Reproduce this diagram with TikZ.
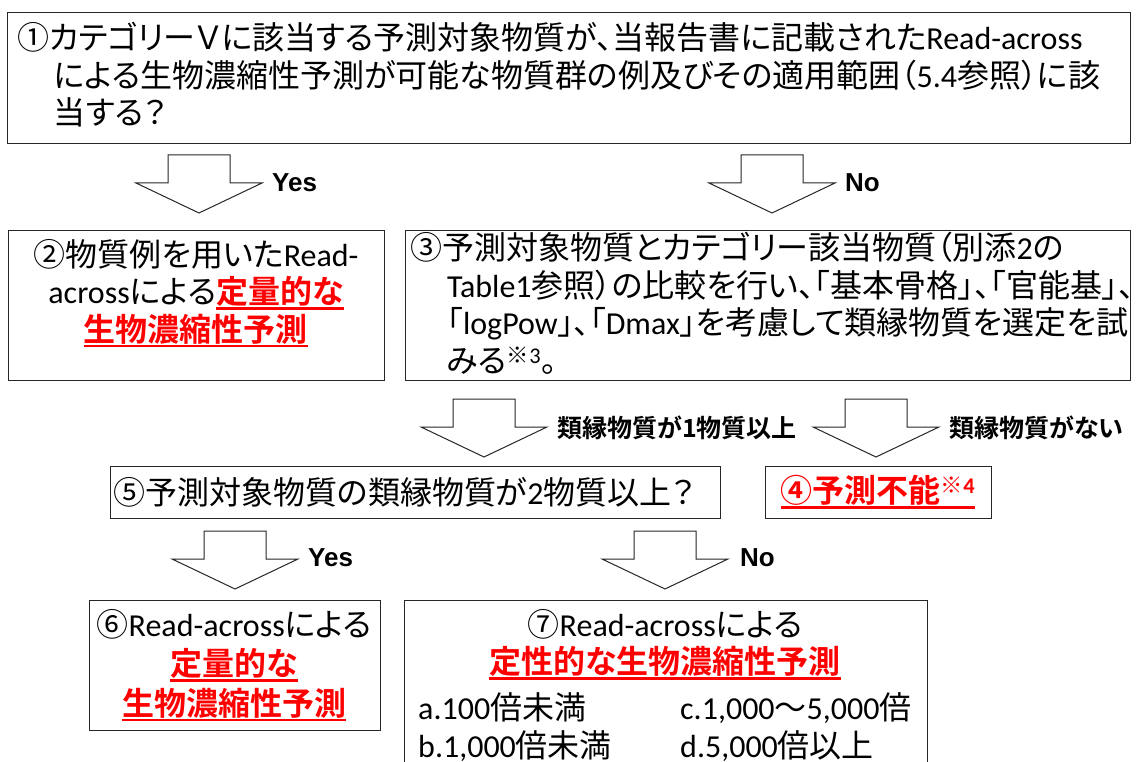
\documentclass[tikz,border=0pt]{standalone}
\usepackage{fontspec}
\setmainfont{Noto Sans CJK JP}[RawFeature={+palt},BoldFont={Noto Sans CJK JP Bold}]
\newfontfamily\lat{Carlito}
\newfontfamily\arl{Liberation Sans}
\newsavebox\ulbox
\newcommand\redul[1]{{\color{red}\bfseries\sbox\ulbox{#1}\leavevmode\rlap{\rule[-6pt]{\wd\ulbox}{2.5pt}}\usebox\ulbox}}
\newcommand\la[1]{{\lat #1}}
\tikzset{
  box/.style={draw=black!85, line width=1.2pt, fill=white, inner sep=0pt, anchor=north west},
  txt/.style={font=\fontsize{32}{37.5}\selectfont, inner sep=0pt},
  lbl/.style={font=\fontsize{25}{28}\selectfont\bfseries, inner sep=0pt, anchor=west},
  yn/.style={font=\fontsize{26}{30}\selectfont\arl\bfseries, inner sep=0pt, anchor=west},
  arrowline/.style={draw=black!85, line width=1pt, fill=white, line join=miter},
  dnarrow/.pic={\path[arrowline] (-31,0) -- (31,0) -- (31,28) -- (63,28) -- (0,58) -- (-63,28) -- (-31,28) -- cycle;}
}
\begin{document}
\begin{tikzpicture}[x=1pt,y=-1pt]
\useasboundingbox[fill=white] (0,0) rectangle (1136,762);
% boxes
\node[box, minimum width=1123pt, minimum height=131pt] (b1) at (7,12) {};
\node[box, minimum width=376pt, minimum height=150pt] (b2) at (8,230) {};
\node[box, minimum width=725pt, minimum height=150pt] (b3) at (405,230) {};
\node[box, minimum width=610pt, minimum height=52pt] (b5) at (110,466) {};
\node[box, minimum width=226pt, minimum height=52pt] (b4) at (765,466) {};
\node[box, minimum width=291pt, minimum height=130pt] (b6) at (89,600) {};
\node[box, minimum width=523pt, minimum height=200pt] (b7) at (404,600) {};
% block arrows
\pic at (199,155) {dnarrow};
\pic at (772,155) {dnarrow};
\pic at (484,399) {dnarrow};
\pic at (876,399) {dnarrow};
\pic at (235,531) {dnarrow};
\pic at (665,531) {dnarrow};
% labels
\node[yn] (yes1) at (272,183) {Yes};
\node[yn] (no1) at (845,183) {No};
\node[lbl] (l1) at (557,428) {類縁物質が1物質以上};
\node[lbl] (l2) at (949,428) {類縁物質がない};
\node[yn] (yes2) at (308,558) {Yes};
\node[yn] (no2) at (740,558) {No};
% texts
\node[txt, anchor=north west, align=left] (t1) at (17,22) {①カテゴリーＶに該当する予測対象物質が、当報告書に記載された\la{Read-across}\\\hspace*{1.15em}による生物濃縮性予測が可能な物質群の例及びその適用範囲（\la{5.4}参照）に該\\\hspace*{1.15em}当する？};
\node[txt, anchor=north, align=center] (t2) at (196,239) {②物質例を用いた\la{Read-}\\\la{across}による\redul{定量的な}\\\redul{生物濃縮性予測}};
\node[txt, anchor=north west, align=left] (t3) at (410,232) {③予測対象物質とカテゴリー該当物質（別添\la{2}の\\\hspace*{1.15em}\la{Table1}参照）の比較を行い、「基本骨格」、「官能基」、\\\hspace*{1.15em}「\la{logPow}」、「\la{Dmax}」を考慮して類縁物質を選定を試\\\hspace*{1.15em}みる\textsuperscript{※\la{3}}。};
\node[txt, anchor=west] (t5) at (113,492) {⑤予測対象物質の類縁物質が\la{2}物質以上？};
\node[txt, anchor=center] (t4) at (878,492) {\redul{④予測不能\textsuperscript{※\la{4}}}};
\node[txt, anchor=north, align=center, font=\fontsize{32}{39.5}\selectfont] (t6) at (234,609) {⑥\la{Read-across}による\\\redul{定量的な}\\\redul{生物濃縮性予測}};
\node[txt, anchor=north, align=center] (t7) at (665,609) {⑦\la{Read-across}による\\\redul{定性的な生物濃縮性予測}};
\node[txt, anchor=north west, align=left] (t7b) at (418,692) {\begin{tabular}{@{}p{262pt}@{}l@{}}\la{a.100}倍未満 & \la{c.1,000}～\la{5,000}倍\\\la{b.1,000}倍未満 & \la{d.5,000}倍以上\end{tabular}};
\end{tikzpicture}
\end{document}
